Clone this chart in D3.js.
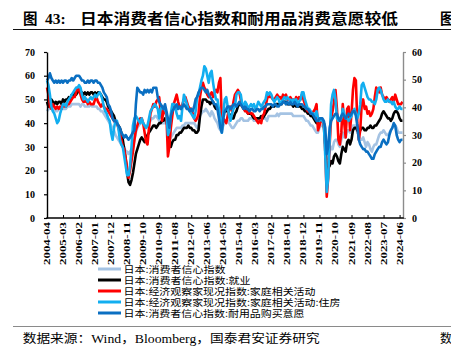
<!DOCTYPE html>
<html><head><meta charset="utf-8">
<script src="https://cdn.jsdelivr.net/npm/d3@7"></script>
<style>
html,body{margin:0;padding:0;background:#fff;}
svg{display:block;}
</style></head>
<body>
<svg id="c" width="451" height="357"></svg>
<script>
// ---- data (monthly, 2004-04 .. 2024-08) ----
const startYear = 2004, startMonth = 4, nMonths = 245;
const months = [];
for (let i = 0; i < nMonths; i++) {
  const t = (startMonth - 1) + i;
  const y = startYear + Math.floor(t / 12), m = t % 12 + 1;
  months.push(y + "-" + (m < 10 ? "0" : "") + m);
}
const xTickLabels = ["2004-04","2005-03","2006-02","2007-01","2007-12","2008-11","2009-10","2010-09","2011-08","2012-07","2013-06","2014-05","2015-04","2016-03","2017-02","2018-01","2018-12","2019-11","2020-10","2021-09","2022-08","2023-07","2024-06"];
const leftTicks = [0,10,20,30,40,50,60,70];
const rightTicks = [0,10,20,30,40,50,60];

// 日本:消费者信心指数 (left axis)
const cci = [
 45,46,46,47,46,46,45,45,46,
 46,47,46,46,46,47,47,47,48,48,48,48,
 48,48,47,48,48,47,47,47,47,48,47,47,
 47,47,46,46,45,45,44,43,42,41,40,39,
 38,37,35,34,33,32,31,30,30,28,28,27,
 28,29,30,33,36,38,39,40,40,40,39,38,
 39,40,41,42,42,43,43,42,41,40,40,40,
 40,40,39,33,34,35,36,37,38,38,38,38,
 39,39,40,40,40,40,40,40,40,39,38,39,
 43,44,45,45,46,45,44,43,45,44,42,41,
 40,38,37,37,39,40,41,41,40,39,38,38,
 39,40,41,41,42,42,41,41,41,41,42,42,
 42,41,41,41,41,41,41,42,42,42,41,43,
 43,43,43,43,43,44,43,44,44,44,44,44,
 44,44,44,44,43,43,43,43,43,43,43,43,
 42,41,41,40,39,39,38,37,36,36,38,39,
 39,38,31,25,26,28,30,29,32,33,33,31,
 30,33,36,34,34,37,37,36,37,39,39,39,
 36,35,33,33,34,32,30,32,31,29,28,30,
 31,31,33,35,36,36,37,36,35,35,36,37,
 38,39,39,38,36,36,36,36
];
// 日本:消费者信心指数:就业 (left axis)
const employment = [
 49,47,48,50,49,48,49,48,49,
 49,48,50,49,50,50,51,50,52,52,53,52,
 53,54,53,53,52,53,52,53,52,53,53,52,
 53,52,53,53,52,51,50,50,49,47,46,45,
 44,43,41,40,39,38,36,33,29,25,19,15,
 14,16,19,23,27,29,31,33,34,33,32,33,
 35,36,37,38,39,39,38,39,40,40,41,41,
 42,41,38,31,30,32,33,33,35,35,36,36,
 37,38,38,38,39,38,38,37,37,36,36,37,
 43,47,50,50,50,49,49,48,49,49,47,46,
 46,45,44,41,44,45,45,45,44,43,42,42,
 44,45,47,48,48,47,46,46,45,44,44,44,
 43,42,42,42,42,42,43,42,43,44,45,46,
 46,47,47,47,48,48,48,48,48,49,49,49,
 48,48,48,48,47,48,47,47,47,47,46,46,
 45,45,44,44,43,43,42,41,40,40,41,41,
 41,40,31,20,21,22,24,23,26,27,26,24,
 23,27,30,29,28,32,33,31,33,37,38,38,
 37,36,37,38,38,37,37,38,38,39,38,38,
 39,39,40,41,42,44,45,44,43,42,42,41,
 42,44,45,45,44,42,41,41
];
// 日本:经济观察家现况指数:家庭相关活动 (left axis)
const household = [
 55,52,47,46,48,47,46,47,46,
 47,46,48,47,47,48,48,49,50,51,51,53,
 55,54,52,50,49,49,50,48,49,48,48,48,
 50,51,49,48,47,48,47,46,46,45,44,43,
 42,41,40,40,38,36,33,30,29,25,21,17,
 20,24,28,33,37,39,41,42,42,40,36,32,
 31,38,44,46,48,47,49,50,51,45,41,46,
 45,43,26,30,38,43,48,50,52,49,47,46,
 48,50,51,49,47,46,46,44,42,41,42,44,
 51,55,57,55,54,52,51,52,53,51,53,54,
 53,57,59,41,42,41,40,43,46,47,45,49,
 52,53,54,53,50,47,46,45,45,44,45,44,
 44,43,42,41,40,41,40,43,44,47,50,52,
 51,51,50,50,51,52,51,51,50,52,51,52,
 50,50,51,50,50,49,51,50,51,50,52,50,
 48,46,45,45,44,44,45,46,48,37,39,41,
 41,40,28,9,17,31,42,45,49,54,46,33,
 31,36,48,40,34,46,47,37,44,54,59,58,
 40,33,37,48,50,46,47,44,45,43,44,46,
 51,55,54,53,55,52,51,50,51,50,49,50,
 51,49,52,50,48,48,48,49
];
// 日本:经济观察家现况指数:家庭相关活动:住房 (left axis)
const housing = [
 58,56,52,47,45,44,42,40,41,
 44,46,48,48,47,49,50,51,52,53,54,55,
 55,56,55,52,50,51,50,49,50,51,50,51,
 52,51,52,53,52,50,47,45,44,42,41,36,
 33,38,41,41,38,33,31,30,26,22,18,18,
 22,30,39,42,43,42,41,40,42,40,39,38,
 39,42,45,46,47,48,47,46,42,46,47,46,
 46,44,35,37,44,48,48,47,44,42,43,41,
 47,52,50,48,46,45,44,43,42,45,51,52,
 55,58,60,64,63,60,57,61,62,57,53,50,
 50,46,42,36,44,50,51,47,43,41,44,46,
 47,52,53,53,52,48,47,49,48,46,47,48,
 47,48,46,47,49,48,47,48,49,50,53,52,
 53,52,50,49,50,51,50,48,49,50,51,50,
 51,50,50,49,50,49,50,48,49,50,53,53,
 50,48,46,46,45,44,44,43,45,42,41,42,
 41,40,26,11,17,33,48,52,54,50,42,41,
 41,42,46,44,42,42,41,42,43,45,46,44,
 42,44,48,56,57,55,53,51,50,50,49,49,
 48,50,54,55,54,52,50,49,49,50,49,49,
 48,49,47,46,46,47,46,46
];
// 日本:消费者信心指数:耐用品购买意愿 (right axis)
const durable = [
 49.7,50.6,52.3,50.6,49.7,48.9,49.7,48.9,49.7,
 48.9,49.7,48.9,49.7,49.7,48.9,49.7,49.7,50.6,49.7,50.6,51.4,
 51.4,51.4,50.6,49.7,49.7,48.9,48.9,49.7,48.9,49.7,49.7,48.9,
 49.7,49.7,48.9,48.9,48.0,47.1,45.4,44.6,43.7,41.1,40.3,38.6,
 36.0,35.1,35.1,34.3,33.4,32.6,30.9,30.0,29.1,30.0,29.1,28.3,
 29.1,30.0,30.9,31.7,41.1,47.1,46.3,45.4,45.4,44.6,46.3,45.4,
 46.3,45.4,46.3,45.4,47.1,47.1,47.1,43.7,42.0,41.1,40.3,39.4,
 41.1,38.6,36.0,32.6,36.9,38.6,39.4,40.3,41.1,39.4,40.3,39.4,
 40.3,41.1,40.3,39.4,39.4,38.6,39.4,38.6,40.3,42.9,43.7,45.4,
 46.3,47.1,47.1,46.3,45.4,46.3,44.6,43.7,42.9,42.0,41.1,41.1,
 39.4,36.0,32.6,30.9,36.0,38.6,39.4,40.3,40.3,39.4,40.3,41.1,
 41.1,40.3,41.1,42.0,41.1,40.3,39.4,40.3,39.4,39.4,38.6,39.4,
 39.4,38.6,38.6,39.4,39.4,38.6,39.4,39.4,40.3,40.3,41.1,41.1,
 41.1,41.1,40.3,41.1,41.1,40.3,40.3,41.1,41.1,42.0,42.0,41.1,
 42.0,41.1,42.0,41.1,41.1,42.0,41.1,40.3,41.1,41.1,41.1,40.3,
 40.3,39.4,39.4,38.6,37.7,37.7,36.9,36.0,35.1,35.1,36.0,36.0,
 36.0,35.1,32.6,23.1,25.7,32.6,35.1,36.0,36.9,37.7,37.7,36.0,
 35.1,36.9,37.7,36.9,36.0,36.9,37.7,36.9,37.7,38.6,38.6,36.9,
 33.4,28.3,26.6,25.7,24.9,24.9,24.0,24.0,23.1,22.3,21.4,21.4,
 23.1,24.0,24.9,25.7,25.7,27.4,28.3,27.4,26.6,27.4,30.0,31.7,
 32.6,34.3,33.4,30.0,28.3,27.4,28.3,28.3
];
const seriesNames = ["日本:消费者信心指数","日本:消费者信心指数:就业","日本:经济观察家现况指数:家庭相关活动","日本:经济观察家现况指数:家庭相关活动:住房","日本:消费者信心指数:耐用品购买意愿"];

// ---- drawing ----
const svg = d3.select("#c");
const serif = "'Liberation Serif','Times New Roman',serif";
const cjk = "'Liberation Serif','Noto Sans CJK SC',sans-serif";

const x = d3.scalePoint().domain(months).range([47, 402.5]);
const yL = d3.scaleLinear().domain([0,70]).range([218,52]);
const yR = d3.scaleLinear().domain([0,60]).range([218,52]);

const series = [
  {name: seriesNames[0], data: cci, y: yL, color: "#a5c3e3", w: 2.6},
  {name: seriesNames[1], data: employment, y: yL, color: "#000000", w: 2.6},
  {name: seriesNames[2], data: household, y: yL, color: "#ff0000", w: 2.6},
  {name: seriesNames[3], data: housing, y: yL, color: "#12aef0", w: 2.6},
  {name: seriesNames[4], data: durable, y: yR, color: "#0a6fc2", w: 2.6}
];

// title
svg.append("text").attr("x",23).attr("y",23.5).attr("font-family",cjk).attr("font-weight","bold").attr("font-size",14.5).text("图");
svg.append("text").attr("x",45).attr("y",23.5).attr("font-family",serif).attr("font-weight","bold").attr("font-size",15.5).text("43:");
svg.append("text").attr("x",80).attr("y",23.5).attr("font-family",cjk).attr("font-weight","bold").attr("font-size",14.5)
  .attr("textLength",318).attr("lengthAdjust","spacingAndGlyphs").text("日本消费者信心指数和耐用品消费意愿较低");
svg.append("text").attr("x",440).attr("y",23.5).attr("font-family",cjk).attr("font-weight","bold").attr("font-size",14.5).text("图");
svg.append("line").attr("x1",13).attr("x2",451).attr("y1",29.5).attr("y2",29.5).attr("stroke","#111").attr("stroke-width",1);

// lines
const g = svg.append("g");
series.forEach(s => {
  const line = d3.line().x((d,i)=>x(months[i])).y(d=>s.y(d));
  g.append("path").datum(s.data).attr("d",line).attr("fill","none")
    .attr("stroke",s.color).attr("stroke-width",s.w).attr("stroke-linejoin","round");
});

// axes
const axL = svg.append("g").attr("transform","translate(47,0)")
  .call(d3.axisLeft(yL).tickValues(leftTicks).tickSize(3).tickPadding(9).tickSizeOuter(0));
axL.select(".domain").attr("stroke","#000").attr("stroke-width",1.4);
axL.selectAll("line").attr("stroke","#000").attr("stroke-width",1.2);
axL.selectAll("text").attr("font-family",serif).attr("font-weight","bold").attr("font-size",10).attr("fill","#000");

const axR = svg.append("g").attr("transform","translate(403,0)")
  .call(d3.axisRight(yR).tickValues(rightTicks).tickSize(3).tickPadding(6).tickSizeOuter(0));
axR.select(".domain").attr("stroke","#8c8c8c").attr("stroke-width",1.4);
axR.selectAll("line").attr("stroke","#8c8c8c").attr("stroke-width",1.2);
axR.selectAll("text").attr("font-family",serif).attr("font-weight","bold").attr("font-size",10).attr("fill","#000");

const axB = svg.append("g").attr("transform","translate(0,218)")
  .call(d3.axisBottom(x).tickValues(xTickLabels).tickSize(-3).tickSizeOuter(0).tickFormat(""));
axB.select(".domain").attr("stroke","#000").attr("stroke-width",1.4).attr("d","M46.3,0H403.7");
axB.selectAll("line").attr("stroke","#000").attr("stroke-width",1);
svg.append("g").selectAll("text").data(xTickLabels).join("text")
  .attr("transform",d=>`translate(${x(d)+3},222) rotate(-90)`)
  .attr("text-anchor","end").attr("font-family",serif).attr("font-weight","bold").attr("font-size",8.5)
  .attr("textLength",43).attr("lengthAdjust","spacingAndGlyphs").text(d=>d);

// legend
const legW = [102,127,192,217,181];
const leg = svg.append("g");
series.forEach((s,i)=>{
  const cy = 269 + 11*i;
  leg.append("line").attr("x1",98).attr("x2",121).attr("y1",cy).attr("y2",cy).attr("stroke",s.color).attr("stroke-width",3);
  leg.append("text").attr("x",123.5).attr("y",cy+3.6).attr("font-family","'Noto Sans CJK SC',sans-serif").attr("font-size",9.6)
    .attr("textLength",legW[i]).attr("lengthAdjust","spacingAndGlyphs").attr("fill","#000").text(s.name);
});

// footer
svg.append("line").attr("x1",13).attr("x2",451).attr("y1",326.5).attr("y2",326.5).attr("stroke","#8a8a8a").attr("stroke-width",1);
svg.append("text").attr("x",22.7).attr("y",342.8).attr("font-family",cjk).attr("font-size",12)
  .attr("textLength",297).attr("lengthAdjust","spacingAndGlyphs").text("数据来源：Wind，Bloomberg，国泰君安证券研究");
svg.append("text").attr("x",440).attr("y",342.8).attr("font-family",cjk).attr("font-size",12).text("数");
</script>
</body></html>
